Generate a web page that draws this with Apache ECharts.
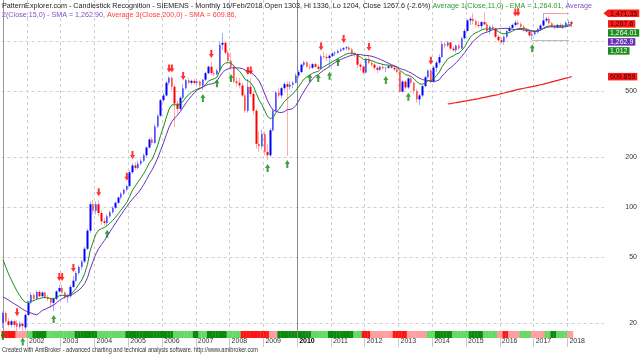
<!DOCTYPE html>
<html>
<head>
<meta charset="utf-8">
<script src="https://cdn.jsdelivr.net/npm/echarts@6/dist/echarts.min.js"></script>
<style>
  html, body { margin: 0; padding: 0; background: #fff; }
  #chart { width: 640px; height: 354px; }
</style>
</head>
<body>
<div id="chart"></div>
<script>
// monthly candles [open, close, low, high], first bar = Apr 2001
const y2001 = [[20, 23, 18.7, 23.5], [23, 20.5, 20, 23.5], [20.5, 19.5, 19, 21.5], [19.5, 20.5, 19, 21], [20.5, 19.5, 18.8, 21],
  [20, 19, 17.8, 20.8], [19, 19.8, 18.5, 20.5], [19.8, 19.2, 17.3, 20.2], [18.8, 22.4, 18.2, 22.8]]
const y2002 = [[22.4, 26.5, 22, 27.2], [26.5, 29.5, 26, 30.5], [29.5, 28, 27.5, 30.5], [28, 30.8, 27.5, 31.5], [30.8, 29, 28.5, 31.5],
  [29, 30.5, 28.5, 31], [30.5, 28.5, 28, 31], [28.5, 28, 27, 29.5], [28, 26.5, 24.5, 28.5], [26.5, 28, 23.6, 28.5],
  [28, 31, 27.5, 31.5], [31, 32.5, 30.5, 33.9]]
const y2003 = [[32.5, 30.5, 30, 33.9], [30.5, 28.5, 28, 31], [28.5, 29, 26.5, 30], [29, 33, 28.5, 34], [33, 36, 32.5, 38.4],
  [36, 40, 35.5, 41], [40, 43.5, 39, 44.5], [43.5, 47, 42, 48], [47, 56, 46, 57.5], [56, 72, 55, 74],
  [72, 104, 70, 108], [104, 95, 90, 110]]
const y2004 = [[95, 104, 90, 108], [104, 92, 88, 110], [92, 82, 78, 95], [82, 80, 77, 86], [80, 88, 77, 90],
  [88, 93, 86, 95], [93, 99, 91, 101], [99, 106, 97, 108], [106, 114, 104, 116], [114, 120, 111, 123],
  [120, 127, 118, 129], [127, 134, 124, 136]]
const y2005 = [[134, 162, 132, 166], [162, 178, 158, 184], [178, 172, 168, 186], [172, 182, 168, 190], [182, 190, 178, 195],
  [190, 205, 186, 210], [205, 228, 200, 232], [228, 255, 225, 262], [255, 243, 236, 264], [243, 305, 240, 315],
  [305, 355, 300, 362], [355, 440, 348, 448]]
const y2006 = [[440, 470, 430, 485], [470, 560, 465, 575], [560, 600, 545, 612], [600, 530, 505, 612], [530, 420, 303, 545],
  [420, 390, 365, 440], [390, 455, 380, 465], [455, 520, 445, 550], [520, 580, 510, 590], [580, 560, 548, 600],
  [560, 575, 545, 585], [575, 558, 545, 590]]
const y2007 = [[558, 570, 540, 590], [570, 540, 520, 580], [540, 585, 507, 590], [585, 640, 575, 650], [640, 700, 630, 712],
  [700, 640, 620, 747], [640, 630, 612, 665], [630, 665, 622, 680], [665, 950, 655, 990], [950, 975, 880, 1117],
  [975, 850, 830, 1000], [850, 760, 740, 880]]
const y2008 = [[760, 700, 669, 850], [700, 570, 555, 720], [570, 560, 530, 600], [560, 540, 520, 600], [540, 470, 460, 560],
  [470, 380, 370, 480], [380, 530, 370, 590], [530, 480, 460, 595], [480, 380, 360, 500], [380, 240, 225, 390],
  [240, 232, 215, 285], [232, 275, 222, 292]]
const y2009 = [[275, 215, 205, 285], [215, 205, 192, 240], [205, 290, 200, 300], [290, 380, 285, 390], [380, 490, 375, 500],
  [490, 470, 455, 520], [470, 520, 450, 530], [520, 550, 505, 565], [550, 530, 203, 570], [530, 545, 510, 570],
  [545, 560, 520, 575], [560, 620, 555, 640]]
const y2010 = [[620, 650, 600, 670], [650, 720, 640, 730], [720, 745, 700, 760], [745, 700, 690, 760], [700, 690, 669, 730],
  [690, 725, 680, 735], [725, 700, 690, 740], [700, 680, 669, 720], [680, 810, 675, 830], [810, 800, 780, 858],
  [800, 790, 760, 840], [790, 815, 690, 830]]
const y2011 = [[815, 840, 800, 860], [840, 850, 812, 870], [850, 870, 835, 890], [870, 890, 860, 910], [890, 905, 875, 920],
  [905, 915, 880, 930], [915, 890, 870, 935], [890, 840, 810, 905], [840, 830, 800, 860], [830, 720, 690, 840],
  [720, 700, 660, 740], [700, 645, 630, 720]]
const y2012 = [[645, 780, 640, 790], [780, 740, 725, 824], [740, 720, 700, 760], [720, 690, 670, 740], [690, 670, 640, 705],
  [670, 700, 660, 710], [700, 685, 670, 720], [685, 690, 650, 700], [690, 705, 680, 720], [705, 690, 680, 720],
  [690, 675, 660, 700], [675, 650, 640, 690]]
const y2013 = [[650, 495, 490, 660], [495, 570, 490, 580], [570, 525, 510, 580], [525, 595, 515, 600], [595, 560, 545, 610],
  [560, 500, 480, 570], [500, 445, 425, 515], [445, 470, 410, 480], [470, 535, 460, 545], [535, 605, 525, 615],
  [605, 665, 595, 675], [665, 570, 555, 680]]
const y2014 = [[570, 690, 560, 710], [690, 740, 650, 760], [740, 800, 720, 830], [800, 960, 790, 990], [960, 940, 900, 990],
  [940, 980, 920, 1000], [980, 900, 880, 990], [900, 880, 860, 930], [880, 940, 850, 950], [940, 900, 880, 960],
  [900, 1040, 890, 1060], [1040, 1150, 1020, 1180]]
const y2015 = [[1150, 1330, 1140, 1350], [1330, 1360, 1250, 1390], [1360, 1320, 1260, 1470], [1320, 1250, 1210, 1350], [1250, 1230, 1200, 1320],
  [1230, 1300, 1180, 1320], [1300, 1260, 1240, 1490], [1260, 1150, 1120, 1300], [1150, 1220, 1100, 1240], [1220, 1190, 1170, 1260],
  [1190, 1060, 1040, 1200], [1060, 1010, 980, 1090]]
const y2016 = [[1010, 985, 960, 1050], [985, 1060, 950, 1080], [1060, 1150, 1040, 1170], [1150, 1200, 1120, 1230], [1200, 1250, 1180, 1270],
  [1250, 1290, 1220, 1330], [1290, 1260, 1240, 1335], [1260, 1220, 1200, 1300], [1220, 1170, 1140, 1250], [1170, 1140, 1120, 1200],
  [1140, 1080, 1050, 1160], [1080, 1100, 1012, 1130]]
const y2017 = [[1100, 1130, 1080, 1150], [1130, 1180, 1110, 1200], [1180, 1240, 1160, 1260], [1240, 1330, 1220, 1471.35], [1330, 1360, 1300, 1400],
  [1360, 1280, 1260, 1400], [1280, 1230, 1210, 1300], [1230, 1210, 1180, 1260], [1210, 1250, 1190, 1270], [1250, 1220, 1200, 1280],
  [1220, 1240, 1180, 1270], [1240, 1290, 1210, 1310]]
const y2018 = [[1290, 1301, 1250, 1340], [1303, 1267.6, 1204, 1336]]

const startYear = 2001
const startMonth = 4
const padBars = 11 // empty space right of the last bar

// indicator inputs
const emaSeed = 48 // Average 1 at the first visible bar
const priorCloses = [28, 30, 31, 29, 28, 30, 29, 30, 33, 34, 33, 34, 19, 19] // closes before Apr 2001, for the 15 bar SMA
const sma200Start = 158
const sma200 = [418, 420, 423, 425, 428, 431, 434,
  437, 440, 443, 447, 450, 454, 457, 461, 465, 469, 472, 476,
  482, 486, 491, 496, 501, 506, 511, 515, 519, 523, 527, 531,
  535, 540, 545, 550, 556, 561, 567, 573, 579, 585, 591, 597,
  603, 609.86]

// pattern signals (bar index)
const bearSignals = [5, 20, 21, 25, 34, 44, 46, 59, 60, 64, 74, 87, 88, 113, 121, 130, 152, 182, 183]
const bullSignals = [0, 7, 18, 37, 71, 76, 81, 94, 101, 109, 112, 116, 119, 136, 144, 188]

// trend ribbon: D dark green, L light green, R red, P pink
const ribbonRuns = [['R', 5], ['P', 4], ['L', 2], ['D', 5], ['L', 10], ['D', 8], ['L', 10], ['D', 17], ['L', 7], ['D', 2],
  ['L', 3], ['D', 7], ['L', 5], ['R', 10], ['P', 3], ['D', 12], ['L', 6], ['D', 9], ['L', 3], ['R', 3], ['P', 8], ['R', 5],
  ['P', 7], ['L', 3], ['D', 6], ['L', 6], ['D', 5], ['L', 5], ['P', 2], ['R', 2], ['P', 4], ['L', 4], ['P', 5], ['L', 2],
  ['D', 2], ['L', 4], ['P', 2]]

// support / resistance levels
const levelValues = [1471.35, 1012]
const levelFrom = [192, 188]

const yearLabels = ['2002', '2003', '2004', '2005', '2006', '2007', '2008', '2009', '2010',
  '2011', '2012', '2013', '2014', '2015', '2016', '2017', '2018']
const priceTicks = [20, 50, 100, 200, 500]
const priceGrid = [20, 50, 100, 200, 500, 1000]

const tagValues = [1471.35, 1267.6, 1264.01, 1262.9, 1012, 609.859]
const tagTexts = ['1,471.35', '1,267.6', '1,264.01', '1,262.9', '1,012', '609.859']

const titleLine1 = ['PatternExplorer.com - Candlestick Recognition - SIEMENS - Monthly 16/Feb/2018 Open 1303, Hi 1336, Lo 1204, Close 1267.6 (-2.6%) ',
  'Average 1(Close,11,0) - EMA = 1,264.01, ', 'Average']
const titleLine2 = ['2(Close,15,0) - SMA = 1,262.90, ', 'Average 3(Close,200,0) - SMA = 609.86,']
const footer = 'Created with AmiBroker - advanced charting and technical analysis software. http://www.amibroker.com'

const FONT = '"Liberation Sans", Arial, sans-serif'
const RED = '#ff1a1a'
const GREEN = '#1a8c1a'
const PURPLE = '#6a30b8'

const candles = [].concat(y2001, y2002, y2003, y2004, y2005, y2006, y2007, y2008, y2009,
  y2010, y2011, y2012, y2013, y2014, y2015, y2016, y2017, y2018)
const lastIdx = candles.length - 1
const closes = candles.map(c => c[1])

// Average 1: EMA(11)
const ema = []
let e = emaSeed
closes.forEach((c, i) => {
  if (i > 0) e = e + (c - e) * 2 / 12
  ema.push([i, e])
})
// Average 2: SMA(15)
const allCloses = priorCloses.concat(closes)
const sma15 = closes.map((c, i) => {
  const k = i + priorCloses.length
  let s = 0
  for (let j = k - 14; j <= k; j++) s += allCloses[j]
  return [i, s / 15]
})

const ribbonCode = []
ribbonRuns.forEach(([k, len]) => { for (let j = 0; j < len; j++) ribbonCode.push(k) })
const ribbonColors = { D: '#0b8a0b', L: '#66d866', R: '#ff1414', P: '#ff9e9e' }

const yearPos = yearLabels.map(y => (Number(y) - startYear) * 12 - (startMonth - 1) - 0.5)
const decadePos = yearPos[yearLabels.indexOf('2010')]

const gridTop = 0
const gridBottom = 338
const ribbonH = 7

const chart = echarts.init(document.getElementById('chart'))

chart.setOption({
  animation: false,
  backgroundColor: '#fff',
  grid: { left: 1.6, right: 35.6, top: gridTop, height: gridBottom - gridTop },
  xAxis: {
    type: 'value',
    min: -0.5,
    max: lastIdx + padBars + 0.5,
    axisLine: { show: false },
    axisTick: { show: true, customValues: yearPos, length: 9, lineStyle: { color: '#c8c8c8' } },
    splitLine: { show: true, lineStyle: { color: '#cfcfcf', type: [3, 3] } },
    axisLabel: {
      customValues: yearPos,
      margin: 0,
      align: 'left',
      padding: [0, 0, 0, 2],
      fontSize: 7,
      fontFamily: FONT,
      color: '#333',
      formatter: v => {
        const y = String(Math.round(startYear + (v + 0.5 + startMonth - 1) / 12))
        return y === '2010' ? '{b|' + y + '}' : y
      },
      rich: { b: { fontWeight: 'bold', fontSize: 7, fontFamily: FONT, color: '#000' } }
    }
  },
  yAxis: [{
    type: 'log',
    logBase: 10,
    min: 16.25,
    max: 1766,
    position: 'right',
    axisLine: { show: true, lineStyle: { color: '#999' } },
    axisTick: { show: false, customValues: priceGrid },
    splitLine: { show: true, lineStyle: { color: '#cfcfcf', type: [3, 3] } },
    axisLabel: {
      customValues: priceTicks,
      align: 'right',
      margin: 33,
      fontSize: 7,
      fontFamily: FONT,
      color: '#333'
    }
  }, {
    type: 'value',
    show: false,
    min: 0,
    max: (gridBottom - gridTop) / ribbonH
  }],
  series: [
    {
      type: 'bar',
      yAxisIndex: 1,
      barWidth: 3.1,
      silent: true,
      z: 4,
      data: ribbonCode.map((k, i) => ({ value: [i, 1], itemStyle: { color: ribbonColors[k] } }))
    },
    {
      type: 'candlestick',
      barWidth: 1,
      silent: true,
      z: 2,
      itemStyle: { color: '#a8a8ff', color0: '#ffacac', borderColor: '#a8a8ff', borderColor0: '#ffacac', borderWidth: 1 },
      data: candles.map((c, i) => [i, c[0], c[1], c[2], c[3]])
    },
    {
      type: 'candlestick',
      barWidth: 2,
      silent: true,
      z: 3,
      itemStyle: { color: '#0000ff', color0: '#ff0000', borderColor: '#0000ff', borderColor0: '#ff0000', borderWidth: 0 },
      data: candles.map((c, i) => [i, c[0], c[1], Math.min(c[0], c[1]), Math.max(c[0], c[1])])
    },
    {
      type: 'line',
      showSymbol: false,
      silent: true,
      z: 5,
      lineStyle: { color: '#1a8c1a', width: 1 },
      data: ema
    },
    {
      type: 'line',
      showSymbol: false,
      silent: true,
      z: 5,
      lineStyle: { color: PURPLE, width: 1 },
      data: sma15
    },
    {
      type: 'line',
      showSymbol: false,
      silent: true,
      z: 5,
      lineStyle: { color: '#f01c1c', width: 1.2 },
      data: sma200.map((v, k) => [sma200Start + k, v]),
      markLine: {
        silent: true,
        symbol: 'none',
        label: { show: false },
        data: [
          [{ coord: [levelFrom[0], levelValues[0]], lineStyle: { color: '#ff9a9a', type: 'solid', width: 1 } }, { coord: [lastIdx - 1, levelValues[0]] }],
          [{ coord: [levelFrom[1], levelValues[1]], lineStyle: { color: '#b4c4b4', type: 'solid', width: 1 } }, { coord: [lastIdx - 1, levelValues[1]] }],
          { xAxis: decadePos, lineStyle: { color: '#8a8a8a', type: 'solid', width: 1 } }
        ]
      }
    },
    {
      type: 'scatter',
      silent: true,
      clip: false,
      z: 6,
      symbol: 'path://M3,0L7,0L7,6L10,6L5,12L0,6L3,6Z',
      symbolKeepAspect: false,
      symbolSize: [5, 8],
      symbolOffset: [0, -8],
      itemStyle: { color: '#ff0000' },
      data: bearSignals.map(i => [i, candles[i][3]])
    },
    {
      type: 'scatter',
      silent: true,
      clip: false,
      z: 6,
      symbol: 'path://M5,0L10,6L7,6L7,12L3,12L3,6L0,6Z',
      symbolKeepAspect: false,
      symbolSize: [5, 8],
      symbolOffset: [0, 8],
      itemStyle: { color: '#0a8a0a' },
      data: bullSignals.map(i => [i, candles[i][2]])
    }
  ]
})

// text helpers
const measureCtx = document.createElement('canvas').getContext('2d')
function textW(str, px) {
  measureCtx.font = px + 'px ' + FONT
  return measureCtx.measureText(str).width
}

const titlePx = 8
const titleScale = 590 / textW(titleLine1.join(''), titlePx)
const footPx = 7
const footScale = 256 / textW(footer, footPx)

function rich(fill) {
  return { fill: fill, fontSize: titlePx, fontFamily: FONT }
}

const graphics = [
  {
    type: 'text', x: 2, y: 5.5, scaleX: titleScale, z: 100,
    style: {
      text: '{k|' + titleLine1[0] + '}{g|' + titleLine1[1] + '}{p|' + titleLine1[2] + '}',
      font: titlePx + 'px ' + FONT,
      verticalAlign: 'middle',
      rich: { k: rich('#222'), g: rich('#2b9a2b'), p: rich('#8050c8') }
    }
  },
  {
    type: 'text', x: 2, y: 15, scaleX: titleScale, z: 100,
    style: {
      text: '{p|' + titleLine2[0] + '}{r|' + titleLine2[1] + '}',
      font: titlePx + 'px ' + FONT,
      verticalAlign: 'middle',
      rich: { p: rich('#8050c8'), r: rich('#ff3c3c') }
    }
  },
  {
    type: 'text', x: 2, y: 350, scaleX: footScale, z: 100,
    style: { text: footer, font: footPx + 'px ' + FONT, fill: '#333', verticalAlign: 'middle' }
  }
]

// value tags on the right, stacked so they do not overlap
const tagBg = [RED, RED, GREEN, PURPLE, GREEN, RED]
const tagFg = ['#300000', '#300000', '#fff', '#fff', '#fff', '#300000']
const tagH = 7.5
let prevBottom = -Infinity
tagValues.forEach((v, k) => {
  const py = chart.convertToPixel({ xAxisIndex: 0, yAxisIndex: 0 }, [0, v])[1]
  const top = Math.max(py - tagH / 2, prevBottom + 1.5)
  prevBottom = top + tagH
  const left = 608
  const w = textW(tagTexts[k], 7) + 4
  if (k === 0) {
    graphics.push({
      type: 'polygon', z: 100,
      shape: { points: [[603.5, top + tagH / 2], [left, top], [left + w, top], [left + w, top + tagH], [left, top + tagH]] },
      style: { fill: tagBg[k] }
    })
  } else {
    graphics.push({ type: 'rect', z: 100, shape: { x: left, y: top, width: w, height: tagH }, style: { fill: tagBg[k] } })
  }
  graphics.push({
    type: 'text', x: left + 2, y: top + tagH / 2 + 0.5, z: 101,
    style: { text: tagTexts[k], font: '7px ' + FONT, fill: tagFg[k], verticalAlign: 'middle' }
  })
})

chart.setOption({ graphic: graphics })
</script>
</body>
</html>
